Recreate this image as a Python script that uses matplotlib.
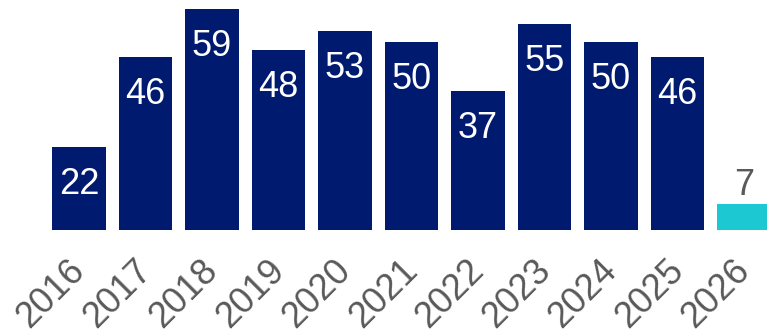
import matplotlib.pyplot as plt
import matplotlib.transforms as mtransforms
import numpy as np

years = ['2016', '2017', '2018', '2019', '2020', '2021', '2022', '2023', '2024', '2025', '2026']
counts = [22, 46, 59, 48, 53, 50, 37, 55, 50, 46, 7]

navy = '#001A70'
cyan = '#1CC9D2'
grey = '#595959'

plt.rcParams['font.family'] = ['Liberation Sans', 'DejaVu Sans']

fig = plt.figure(figsize=(7.67, 3.36), dpi=100)
ax = fig.add_axes([0, 0.3155, 1, 0.6845])

x = np.arange(len(years))
colors = [navy] * (len(years) - 1) + [cyan]
bars = ax.bar(x, counts, width=0.81, color=colors)

for i, (b, v) in enumerate(zip(bars, counts)):
    if i < len(counts) - 1:
        ax.annotate(str(v), (b.get_x() + b.get_width() / 2, v), xytext=(0, -33.8),
                    textcoords='offset points', ha='center', va='baseline',
                    color='white', fontsize=26)
    else:
        ax.annotate(str(v), (b.get_x() + b.get_width() / 2, v), xytext=(0, 6.5),
                    textcoords='offset points', ha='center', va='baseline',
                    color=grey, fontsize=26)

ax.set_xlim(-1.188, 10.346)
ax.set_ylim(0, 61.3)
ax.set_xticks(x)
ax.set_xticklabels(years, rotation=45, ha='right', rotation_mode='anchor',
                   fontsize=26, color=grey)
ax.tick_params(axis='x', length=0, pad=12)

# nudge the rotated year labels left and down
shift = mtransforms.ScaledTranslation(-8.6 / 72, -4.3 / 72, fig.dpi_scale_trans)
for lbl in ax.get_xticklabels():
    lbl.set_transform(lbl.get_transform() + shift)

ax.set_yticks([])
for s in ax.spines.values():
    s.set_visible(False)

fig.savefig('out.png', dpi=100)
